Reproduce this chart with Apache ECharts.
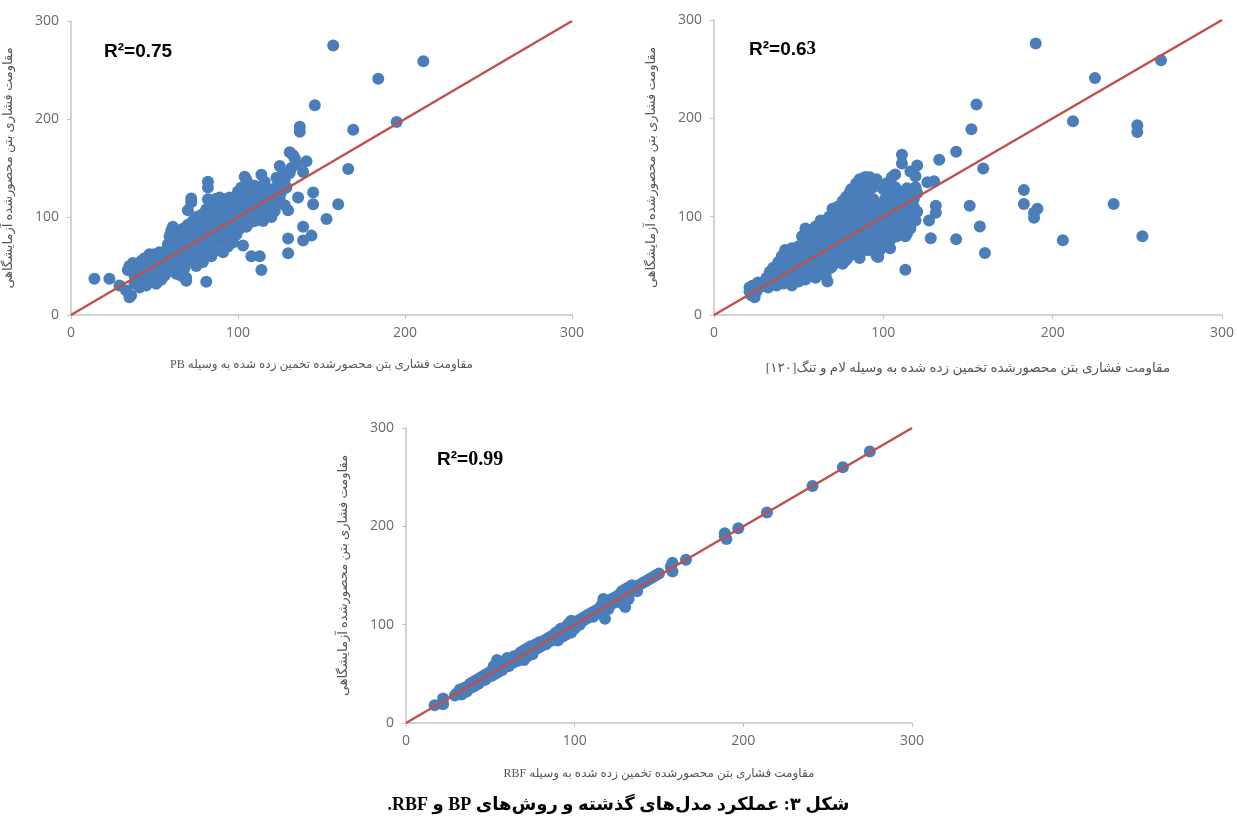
<!DOCTYPE html>
<html>
<head>
<meta charset="utf-8">
<title>PB / Lam-Teng / RBF</title>
<script src="https://cdn.jsdelivr.net/npm/echarts@6/dist/echarts.min.js"></script>
<style>
  html, body { margin: 0; padding: 0; background: #fff; }
  #chart { width: 1237px; height: 818px; }
</style>
</head>
<body>
<div id="chart"></div>
<script>
// axis ticks shared by all three panels
const ticks = [0, 100, 200, 300]

const pbPoints = [
  [14, 37], [23, 37], [29, 30], [33, 25], [35, 18], [36, 20], [35, 50], [34, 46], [37, 53],
  [38, 32], [38, 40], [39, 45], [40, 36], [40, 50], [41, 28], [42, 42], [42, 55], [43, 34], [43, 47],
  [44, 38], [44, 58], [45, 44], [45, 30], [46, 52], [40, 40], [44, 42], [48, 44], [46, 46], [50, 48],
  [47, 40], [47, 62], [48, 35], [48, 48], [49, 56], [50, 42], [50, 62], [51, 32], [51, 50], [52, 58],
  [52, 38], [53, 45], [53, 64], [54, 52], [54, 36], [55, 60], [55, 47], [52, 48], [56, 50], [54, 44],
  [56, 40], [56, 55], [57, 66], [57, 48], [58, 72], [58, 44], [59, 58], [59, 80], [60, 86], [60, 50],
  [61, 62], [61, 90], [62, 46], [62, 70], [63, 56], [63, 78], [64, 64], [64, 50], [65, 84], [65, 58],
  [58, 60], [62, 58], [60, 54], [64, 56], [66, 40], [63, 42], [58, 52], [60, 70], [62, 64], [64, 72],
  [66, 72], [66, 52], [67, 62], [67, 88], [68, 80], [68, 48], [69, 68], [69, 38], [69, 35], [70, 75],
  [70, 92], [70, 107], [71, 60], [71, 84], [72, 115], [72, 119], [72, 70], [73, 96], [73, 55], [74, 78],
  [74, 88], [75, 64], [75, 100], [75, 50], [66, 66], [70, 70], [74, 72], [68, 60], [72, 64],
  [66, 58], [68, 70], [70, 60], [72, 80], [74, 66],
  [76, 82], [76, 94], [77, 70], [77, 60], [78, 90], [78, 102], [79, 76], [79, 54], [80, 96], [80, 86],
  [81, 108], [81, 66], [81, 34], [82, 136], [82, 130], [82, 118], [83, 92], [83, 80], [84, 104], [84, 60],
  [85, 112], [85, 74], [85, 96], [78, 80], [82, 88], [76, 66], [80, 70], [84, 78],
  [76, 74], [78, 66], [80, 78], [80, 104], [82, 96], [84, 88],
  [86, 88], [86, 118], [87, 100], [87, 66], [88, 108], [88, 82], [89, 120], [89, 94], [90, 76], [90, 104],
  [91, 112], [91, 64], [92, 90], [92, 118], [93, 100], [93, 80], [94, 108], [94, 70], [95, 96], [95, 120],
  [86, 94], [90, 96], [94, 100], [88, 92], [92, 84], [86, 80], [86, 104], [88, 98], [90, 90], [90, 112],
  [92, 104], [94, 90], [94, 116],
  [96, 86], [96, 112], [97, 104], [97, 74], [98, 92], [98, 118], [99, 82], [99, 110], [100, 98], [100, 126],
  [101, 88], [101, 106], [102, 130], [102, 116], [103, 71], [103, 96], [104, 141], [104, 108], [105, 90],
  [105, 120], [105, 138], [98, 104], [102, 100], [96, 104], [100, 110], [104, 96],
  [96, 96], [98, 110], [100, 104], [100, 118], [102, 108], [104, 114], [104, 126],
  [106, 102], [106, 128], [107, 112], [107, 94], [108, 60], [108, 118], [109, 104], [109, 132], [110, 96],
  [110, 124], [111, 110], [112, 130], [112, 100], [113, 60], [113, 116], [114, 46], [114, 143], [114, 108],
  [115, 122], [115, 96], [106, 112], [110, 108], [108, 104], [112, 112],
  [106, 120], [108, 110], [110, 116], [112, 122], [114, 118], [110, 132], [106, 134],
  [116, 136], [116, 112], [117, 104], [118, 120], [118, 128], [119, 110], [120, 116], [120, 100],
  [121, 124], [122, 106], [123, 114], [123, 140], [124, 134], [125, 152], [125, 120],
  [116, 124], [118, 112], [120, 128], [122, 120], [124, 124], [126, 134], [120, 108],
  [126, 126], [127, 145], [128, 112], [128, 138], [129, 130], [130, 107], [130, 78], [130, 63],
  [131, 166], [131, 145], [133, 163], [132, 150], [134, 160], [135, 154],
  [136, 120], [137, 192], [137, 187], [139, 76], [139, 90], [141, 157], [139, 146], [144, 81],
  [145, 125], [145, 113], [146, 214], [153, 98], [157, 275], [160, 113], [166, 149], [169, 189],
  [184, 241], [195, 197], [211, 259]
]

const lamTangPoints = [
  [21, 28], [21, 24], [22, 20], [23, 30], [24, 18], [25, 24], [26, 33], [27, 28],
  [30, 32], [31, 38], [32, 28], [33, 44], [34, 34], [35, 48], [36, 40], [37, 30], [38, 54], [38, 44],
  [39, 36], [40, 60], [40, 48], [32, 36], [34, 42], [36, 46], [38, 38], [40, 54], [40, 42],
  [41, 32], [42, 66], [42, 40], [43, 52], [44, 58], [44, 36], [45, 46], [46, 68], [46, 30], [47, 54],
  [48, 40], [48, 62], [49, 48], [50, 70], [50, 34],
  [42, 48], [43, 60], [44, 44], [45, 64], [46, 50], [47, 38], [48, 56], [49, 66], [50, 44], [50, 56],
  [51, 58], [52, 44], [52, 80], [53, 64], [54, 36], [54, 88], [55, 52], [56, 72], [56, 42], [57, 60],
  [58, 84], [58, 48], [59, 68], [60, 90], [60, 38],
  [51, 66], [52, 52], [53, 72], [54, 46], [55, 62], [55, 80], [56, 56], [57, 76], [58, 40], [58, 66],
  [59, 52], [60, 80], [60, 62], [60, 46],
  [61, 56], [62, 76], [62, 44], [63, 96], [64, 64], [64, 50], [65, 86], [66, 40], [66, 72], [67, 34],
  [67, 58], [68, 100], [68, 80], [69, 48], [70, 66], [70, 108],
  [61, 70], [62, 86], [62, 52], [63, 64], [64, 90], [64, 42], [65, 76], [66, 60], [66, 96], [67, 48],
  [68, 68], [68, 88], [69, 56], [70, 78], [70, 96], [70, 50],
  [71, 90], [72, 56], [72, 76], [73, 110], [74, 96], [74, 62], [75, 84], [76, 116], [76, 52], [77, 70],
  [78, 102], [78, 120], [79, 88], [79, 58], [80, 76], [80, 110],
  [71, 70], [72, 100], [72, 86], [73, 60], [73, 80], [74, 104], [74, 54], [75, 74], [75, 92], [76, 64],
  [76, 108], [77, 84], [77, 98], [78, 56], [78, 70], [79, 112], [79, 80], [80, 94], [80, 62], [80, 124],
  [81, 128], [81, 64], [82, 96], [83, 84], [83, 118], [84, 134], [84, 70], [85, 104], [86, 138], [86, 58],
  [87, 90], [87, 124], [88, 76], [88, 112], [89, 140], [89, 98], [90, 66], [90, 130],
  [81, 84], [81, 106], [82, 72], [82, 116], [83, 62], [83, 100], [84, 92], [84, 124], [85, 76], [85, 114],
  [86, 96], [86, 128], [87, 66], [87, 106], [88, 86], [88, 132], [89, 74], [89, 118], [90, 94], [90, 106],
  [90, 140],
  [91, 108], [91, 84], [92, 140], [92, 118], [93, 72], [93, 96], [94, 130], [95, 88], [95, 106], [96, 60],
  [97, 59], [96, 138], [97, 100], [98, 76], [99, 92], [100, 128], [102, 134],
  [91, 76], [91, 128], [92, 100], [92, 66], [93, 86], [93, 110], [94, 118], [94, 78], [95, 96], [95, 136],
  [96, 70], [96, 100], [97, 82], [97, 112], [98, 94], [98, 66], [99, 104], [99, 80], [100, 90], [100, 108],
  [100, 74],
  [101, 84], [101, 104], [102, 124], [102, 70], [103, 96], [104, 112], [104, 68], [105, 140], [105, 88],
  [106, 102], [107, 143], [107, 118], [108, 80], [108, 94], [109, 126], [109, 108], [110, 100], [110, 114],
  [101, 96], [101, 118], [102, 80], [102, 108], [103, 88], [103, 130], [104, 100], [104, 76], [105, 120],
  [105, 96], [106, 84], [106, 110], [107, 92], [107, 130], [108, 104], [108, 116], [109, 86], [109, 96],
  [110, 106], [110, 90], [110, 124],
  [111, 163], [111, 154], [111, 90], [112, 120], [112, 104], [113, 46], [113, 80], [114, 129], [114, 96],
  [114, 83], [115, 112], [116, 146], [116, 88], [117, 104], [118, 118], [119, 141], [119, 96], [120, 152],
  [120, 124], [120, 105],
  [112, 96], [112, 110], [113, 88], [114, 104], [115, 120], [116, 96], [116, 108], [117, 114], [118, 100],
  [118, 110], [119, 130], [119, 104],
  [126, 135], [127, 96], [128, 78], [130, 136], [131, 111], [131, 104], [133, 158], [143, 166], [143, 77],
  [151, 111], [152, 189], [155, 214], [157, 90], [159, 149], [160, 63], [183, 127], [183, 113], [189, 99],
  [189, 104], [191, 108], [190, 276], [206, 76], [212, 197], [225, 241], [236, 113], [250, 193],
  [250, 186], [253, 80], [264, 259]
]

const rbfPoints = [
  [17, 18], [22, 25], [22, 19], [29, 28],
  [30, 30], [32, 34], [33, 29], [35, 36], [36, 32], [38, 40], [39, 36], [40, 42], [41, 38], [42, 44],
  [43, 40], [44, 46], [45, 43], [46, 48], [47, 44], [48, 50], [49, 47], [50, 52], [51, 48], [52, 54],
  [52, 58], [53, 50], [54, 64], [54, 56], [55, 52], [56, 58], [57, 54], [58, 62], [59, 57], [60, 66],
  [60, 60], [61, 58], [62, 64], [63, 61], [64, 68], [64, 62], [65, 66], [66, 63], [67, 70], [68, 66],
  [68, 72], [69, 68], [70, 74], [70, 64], [71, 70], [72, 76], [72, 68], [73, 72], [74, 78], [75, 74],
  [75, 70], [76, 76], [77, 80], [78, 76], [79, 82], [80, 78], [81, 80], [82, 84], [83, 80], [84, 86],
  [85, 83], [86, 88], [86, 84], [87, 86], [88, 90], [88, 85], [89, 92], [90, 88], [90, 84], [91, 94],
  [92, 90], [92, 96], [93, 88], [94, 96], [94, 92], [95, 98], [95, 90], [96, 100], [96, 94], [97, 96],
  [97, 102], [98, 92], [98, 104], [99, 98], [100, 96], [100, 102], [101, 100], [102, 104], [103, 100],
  [104, 106], [105, 104], [106, 108], [107, 106], [108, 110], [109, 108], [110, 112], [111, 108],
  [112, 114], [113, 112], [114, 116], [115, 112], [116, 120], [117, 110], [117, 126], [118, 118],
  [118, 106], [119, 122], [120, 124], [120, 116], [121, 120], [122, 126], [123, 122], [124, 128],
  [125, 124], [126, 130], [127, 126], [128, 134], [128, 122], [129, 130], [130, 136], [130, 118],
  [131, 132], [132, 138], [132, 126], [133, 134], [134, 140], [135, 136], [136, 138], [137, 134],
  [138, 140], [140, 142], [142, 144], [144, 146], [146, 148], [148, 150], [150, 152],
  [157, 159], [158, 163], [158, 154], [166, 166], [189, 193], [189, 190], [190, 187], [197, 198],
  [214, 214], [241, 241], [259, 260], [275, 276]
]

// 1:1 reference line
const fitLine = [[0, 0], [300, 300]]

const r2Labels = ['0.75', '0.63', '0.99']

const RLE = '\u202B'
const PDF = '\u202C'
const yName = RLE + 'مقاومت فشاری بتن محصورشده آزمایشگاهی' + PDF
const xNames = [
  RLE + 'مقاومت فشاری بتن محصورشده تخمین زده شده به وسیله PB' + PDF,
  RLE + 'مقاومت فشاری بتن محصورشده تخمین زده شده به وسیله لام و تنگ[۱۲۰]' + PDF,
  RLE + 'مقاومت فشاری بتن محصورشده تخمین زده شده به وسیله RBF' + PDF
]
const caption = RLE + 'شکل ۳: عملکرد مدل\u200Cهای گذشته و روش\u200Cهای BP و RBF.' + PDF

const panels = [
  { data: pbPoints, grid: { left: 71, top: 21, width: 501, height: 294 }, nameGap: 44, nameSize: 12 },
  { data: lamTangPoints, grid: { left: 714, top: 20, width: 508, height: 295 }, nameGap: 46, nameSize: 13.5 },
  { data: rbfPoints, grid: { left: 406, top: 428, width: 506, height: 295 }, nameGap: 45, nameSize: 12 }
]

const axisBase = {
  type: 'value',
  min: ticks[0],
  max: ticks[ticks.length - 1],
  interval: ticks[1] - ticks[0],
  splitLine: { show: false },
  axisLine: { show: true, lineStyle: { color: '#c4c4c4', width: 1.5 } },
  axisTick: { show: true, length: 4, lineStyle: { color: '#c4c4c4' } },
  axisLabel: { color: '#6a6a6a', fontSize: 14, fontFamily: 'Open Sans, sans-serif' },
  nameLocation: 'middle'
}
const nameFont = 'Liberation Serif, DejaVu Sans, serif'

const chart = echarts.init(document.getElementById('chart'))
chart.setOption({
  animation: false,
  backgroundColor: '#fff',
  grid: panels.map(p => Object.assign({ containLabel: false }, p.grid)),
  xAxis: panels.map((p, i) => Object.assign({}, axisBase, {
    gridIndex: i,
    name: xNames[i],
    nameGap: p.nameGap,
    nameTextStyle: { color: '#555', fontSize: p.nameSize, fontFamily: nameFont },
    axisLabel: Object.assign({}, axisBase.axisLabel, { margin: 11 })
  })),
  yAxis: panels.map((p, i) => Object.assign({}, axisBase, {
    gridIndex: i,
    name: yName,
    nameGap: 56,
    nameRotate: 90,
    nameTextStyle: { color: '#555', fontSize: 13, fontFamily: nameFont },
    axisLabel: Object.assign({}, axisBase.axisLabel, { margin: 12 })
  })),
  series: panels.map((p, i) => ({
    type: 'scatter',
    xAxisIndex: i,
    yAxisIndex: i,
    symbolSize: 12,
    itemStyle: { color: '#4a7ebb', opacity: 1, borderWidth: 0, borderColor: '#4a7ebb' },
    data: p.data
  })).concat(panels.map((p, i) => ({
    type: 'line',
    xAxisIndex: i,
    yAxisIndex: i,
    symbol: 'none',
    silent: true,
    z: 5,
    lineStyle: { color: '#c0504d', width: 2.5 },
    data: fitLine
  }))),
  graphic: [
    {
      type: 'text', left: 104, top: 42,
      style: { text: 'R²=' + r2Labels[0], font: 'bold 19px Liberation Sans, Arial, sans-serif', fill: '#000' }
    },
    {
      type: 'text', left: 749, top: 40,
      style: {
        text: '{a|R²=' + r2Labels[1].slice(0, 3) + '}{b|' + r2Labels[1].slice(3) + '}',
        rich: {
          a: { font: 'bold 19px Liberation Sans, Arial, sans-serif', fill: '#000' },
          b: { font: 'bold 19px Liberation Serif, Times New Roman, serif', fill: '#000' }
        }
      }
    },
    {
      type: 'text', left: 437, top: 450,
      style: {
        text: '{a|R²=}{b|' + r2Labels[2] + '}',
        rich: {
          a: { font: 'bold 19px Liberation Sans, Arial, sans-serif', fill: '#000' },
          b: { font: 'bold 20px Liberation Serif, Times New Roman, serif', fill: '#000' }
        }
      }
    },
    {
      type: 'text', left: 'center', top: 796,
      style: { text: caption, font: 'bold 18px Liberation Serif, DejaVu Sans, serif', fill: '#000' }
    }
  ]
})
</script>
</body>
</html>
